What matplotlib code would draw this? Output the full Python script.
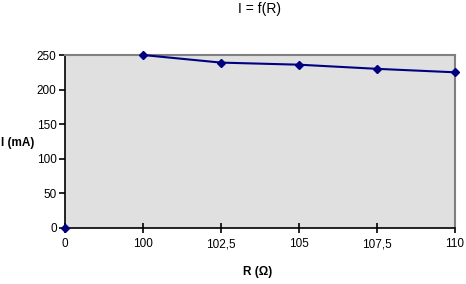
#!/usr/bin/env python3
import matplotlib
matplotlib.use("Agg")
import matplotlib.pyplot as plt

plt.rcParams["font.family"] = ["Liberation Sans", "DejaVu Sans"]

categories = ["0", "100", "102,5", "105", "107,5", "110"]
current_ma = [0, 250, 239, 236, 230, 225]


def main():
    fig = plt.figure(figsize=(4.66, 2.84), dpi=100)
    ax = fig.add_axes([65 / 466, 56 / 284, 390 / 466, 173 / 284])
    ax.set_facecolor("#E0E0E0")

    x = list(range(len(categories)))
    navy = "#000080"
    # first point stands alone, no line to the next one
    ax.plot(x[:1], current_ma[:1], linestyle="none", marker="D",
            color=navy, markersize=4.5, clip_on=False, zorder=5)
    ax.plot(x[1:], current_ma[1:], color=navy, linewidth=1.5,
            marker="D", markersize=4.5, clip_on=False, zorder=5)

    ax.set_xlim(0, len(categories) - 1)
    ax.set_ylim(0, 250)
    ax.set_xticks(x)
    ax.set_xticklabels(categories)
    ax.set_yticks(range(0, 251, 50))

    for side in ("top", "right"):
        ax.spines[side].set_color("#808080")
        ax.spines[side].set_linewidth(1.5)
    for side in ("left", "bottom"):
        ax.spines[side].set_color("black")
        ax.spines[side].set_linewidth(1.2)

    ax.tick_params(axis="x", direction="inout", length=7, width=1.2,
                   labelsize=8.5, pad=4)
    ax.tick_params(axis="y", direction="out", length=4, width=1.2,
                   labelsize=8.5, pad=2)

    fig.text(260 / 466, 1 - 9 / 284, "I = f(R)", ha="center", va="center",
             fontsize=10)
    fig.text(258 / 466, 1 - 272 / 284, "R (\u03a9)", ha="center", va="center",
             fontsize=8.5, fontweight="bold")
    fig.text(1 / 466, 1 - 143 / 284, "I (mA)", ha="left", va="center",
             fontsize=8.5, fontweight="bold")

    fig.savefig("out.png", dpi=100)
    plt.close(fig)


if __name__ == "__main__":
    main()
